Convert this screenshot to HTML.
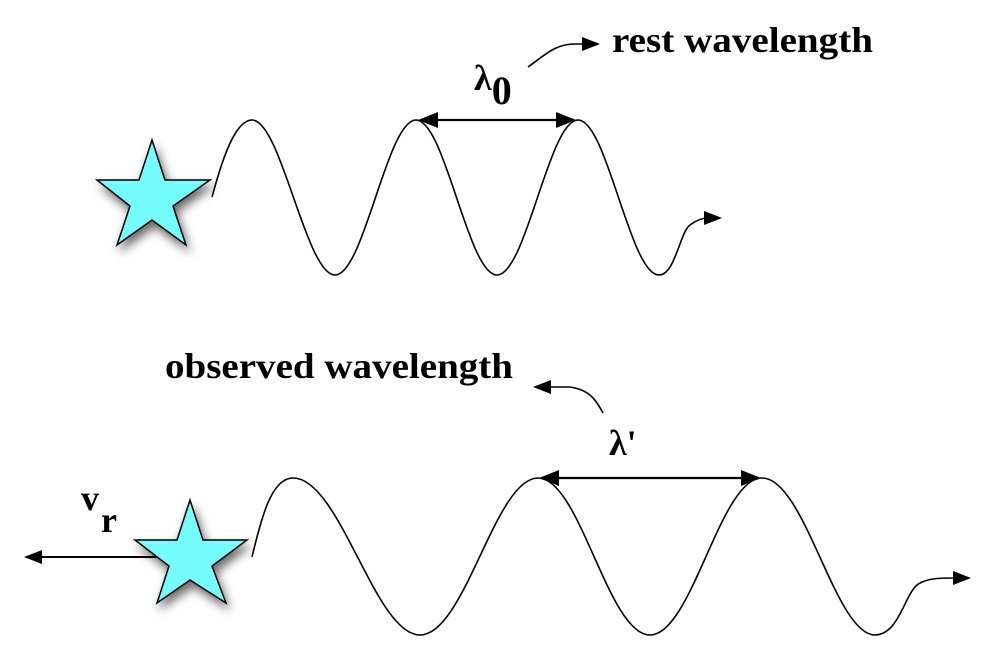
<!DOCTYPE html>
<html><head><meta charset="utf-8"><style>
html,body{margin:0;padding:0;background:#fff;}
svg{display:block;}
text{font-family:"Liberation Serif",serif;font-weight:bold;fill:#000;}
</style></head><body>
<svg width="992" height="662" viewBox="0 0 992 662" xmlns="http://www.w3.org/2000/svg">
<defs>
<filter id="sh" x="-50%" y="-50%" width="200%" height="200%">
<feGaussianBlur in="SourceAlpha" stdDeviation="5"/>
<feOffset dx="3" dy="6" result="b"/>
<feComponentTransfer><feFuncA type="linear" slope="0.6"/></feComponentTransfer>
<feMerge><feMergeNode/><feMergeNode in="SourceGraphic"/></feMerge>
</filter>
<marker id="big" markerWidth="20" markerHeight="16" refX="18" refY="8" orient="auto" markerUnits="userSpaceOnUse">
<path d="M0,0 L20,8 L0,16 z" fill="#000"/></marker>
<marker id="bigs" markerWidth="20" markerHeight="16" refX="2" refY="8" orient="auto" markerUnits="userSpaceOnUse">
<path d="M20,0 L0,8 L20,16 z" fill="#000"/></marker>
</defs>

<polygon filter="url(#sh)" points="152,140 165,180 210,180 173,206 186,245 152,220 117,245 130,206 97,180 139,180" fill="#74fcfc" stroke="#000" stroke-width="1.5"/>
<path d="M212,197 C222,160 235,120 252,120 C281,120 306,275 335,275 C364,275 387,120 416,120 C445,120 468,275 497,275 C526,275 549,120 578,120 C607,120 630,275 659,275 C675,275 680,232 690,225 C698,219 704,218 708,218" fill="none" stroke="#000" stroke-width="1.6"/>
<path d="M704,211 L722,218 L704,225 z" fill="#000"/>
<line x1="420" y1="120" x2="574" y2="120" stroke="#000" stroke-width="2.2" marker-start="url(#bigs)" marker-end="url(#big)"/>
<text x="474" y="90" font-size="36">λ<tspan font-size="40" dy="14">0</tspan></text>
<path d="M528,67 C545,55 555,44 575,44 L584,44" fill="none" stroke="#000" stroke-width="1.6"/>
<path d="M582,37 L600,44 L582,51 z" fill="#000"/>
<text x="612" y="52" font-size="36" textLength="261" lengthAdjust="spacingAndGlyphs">rest wavelength</text>

<text x="165" y="378" font-size="36" textLength="348" lengthAdjust="spacingAndGlyphs">observed wavelength</text>
<path d="M603,413 C596,400 590,390 570,387 L550,387" fill="none" stroke="#000" stroke-width="1.6"/>
<path d="M551,380 L533,387 L551,394 z" fill="#000"/>
<text x="609" y="455" font-size="36">λ'</text>
<line x1="541" y1="478" x2="759" y2="478" stroke="#000" stroke-width="2.2" marker-start="url(#bigs)" marker-end="url(#big)"/>
<text x="81" y="510" font-size="36">v</text>
<text x="101" y="532" font-size="36">r</text>
<line x1="40" y1="557" x2="160" y2="557" stroke="#000" stroke-width="2"/>
<path d="M42,550 L24,557 L42,564 z" fill="#000"/>
<polygon filter="url(#sh)" points="190,500 203,540 247,540 212,566 226,603 190,580 157,603 169,566 135,540 177,540" fill="#74fcfc" stroke="#000" stroke-width="1.5"/>
<path d="M252,557 C262,515 272,478 293,478 C340,478 375,635 420,635 C465,635 495,478 538,478 C580,478 608,635 650,635 C692,635 720,478 762,478 C805,478 835,635 875,635 C900,635 905,590 920,583 C930,578 940,578 956,578" fill="none" stroke="#000" stroke-width="1.6"/>
<path d="M953,571 L971,578 L953,585 z" fill="#000"/>
</svg>
</body></html>
